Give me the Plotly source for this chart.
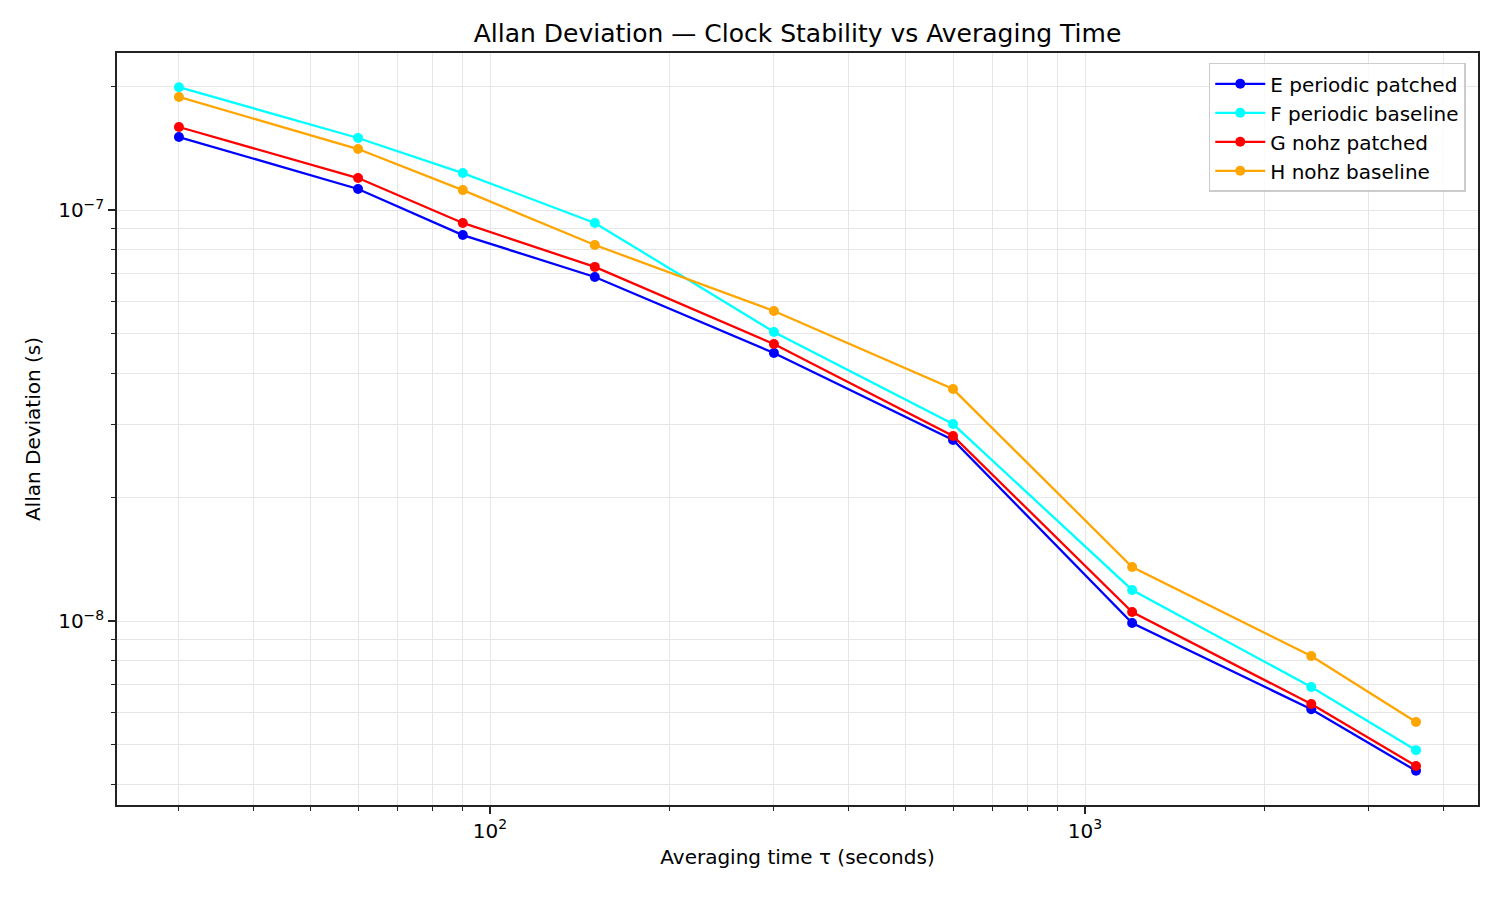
import numpy as np
import plotly.graph_objects as go

tau = [30, 60, 90, 150, 300, 600, 1200, 2400, 3600]
e_periodic_patched = [1.505e-7, 1.125e-7, 0.869e-7, 0.687e-7, 0.449e-7, 0.2757e-7, 0.989e-8, 6.10e-9, 4.32e-9]
f_periodic_baseline = [1.99e-7, 1.497e-7, 1.23e-7, 0.93e-7, 0.505e-7, 0.3014e-7, 1.19e-8, 6.91e-9, 4.85e-9]
g_nohz_patched = [1.592e-7, 1.196e-7, 0.93e-7, 0.727e-7, 0.472e-7, 0.282e-7, 1.052e-8, 6.28e-9, 4.44e-9]
h_nohz_baseline = [1.884e-7, 1.407e-7, 1.118e-7, 0.822e-7, 0.568e-7, 0.3667e-7, 1.353e-8, 8.22e-9, 5.68e-9]

series_names = ["E periodic patched", "F periodic baseline", "G nohz patched", "H nohz baseline"]
series_colors = ["#0000ff", "#00ffff", "#ff0000", "#ffa500"]
series_values = [e_periodic_patched, f_periodic_baseline, g_nohz_patched, h_nohz_baseline]

x_major = [100, 1000]
x_major_text = ["10<sup>2</sup>", "10<sup>3</sup>"]
y_major = [1e-8, 1e-7]
y_major_text = ["10<sup>−8</sup>", "10<sup>−7</sup>"]

x_minor = [m * 10 ** d for d in (1, 2, 3) for m in range(2, 10)]
y_minor = [m * 10.0 ** d for d in (-9, -8, -7) for m in range(2, 10)]

fig = go.Figure()
for name, color, vals in zip(series_names, series_colors, series_values):
    fig.add_trace(go.Scatter(
        x=tau, y=vals, name=name, mode="lines+markers",
        line=dict(color=color, width=2.3),
        marker=dict(color=color, size=10),
    ))

font = "DejaVu Sans, sans-serif"
grid_col = "#e6e6e6"

fig.update_layout(
    width=1500, height=900,
    paper_bgcolor="white", plot_bgcolor="white",
    margin=dict(l=117, r=22, t=53, b=95),
    font=dict(family=font, size=20, color="black"),
    title=dict(text="Allan Deviation — Clock Stability vs Averaging Time",
               xref="paper", x=0.5, xanchor="center", y=1 - 33 / 900, yanchor="middle",
               font=dict(size=25, family=font)),
    legend=dict(x=0.991, y=0.987, xanchor="right", yanchor="top",
                bgcolor="rgba(255,255,255,0.8)", bordercolor="#cccccc", borderwidth=1.5,
                font=dict(size=20, family=font), tracegroupgap=0, itemwidth=50),
    showlegend=True,
)

fig.update_xaxes(
    type="log", range=[1.373, 3.6605],
    tickmode="array", tickvals=x_major, ticktext=x_major_text,
    ticks="outside", ticklen=7, tickwidth=1.5, tickcolor="#222222",
    showgrid=True, gridcolor=grid_col, gridwidth=1.3,
    showline=True, linecolor="#222222", linewidth=1.5, mirror=True,
    zeroline=False,
    tickfont=dict(size=20, family=font),
    title=dict(text="Averaging time τ (seconds)", font=dict(size=20, family=font), standoff=8),
    minor=dict(tickmode="array", tickvals=x_minor, ticks="outside", ticklen=4,
               tickwidth=1.2, tickcolor="#222222", showgrid=True, gridcolor=grid_col, gridwidth=1.3),
)
fig.update_yaxes(
    type="log", range=[-8.4477, -6.618],
    tickmode="array", tickvals=y_major, ticktext=y_major_text,
    ticks="outside", ticklen=7, tickwidth=1.5, tickcolor="#222222",
    showgrid=True, gridcolor=grid_col, gridwidth=1.3,
    showline=True, linecolor="#222222", linewidth=1.5, mirror=True,
    zeroline=False,
    tickfont=dict(size=20, family=font),
    title=dict(text="Allan Deviation (s)", font=dict(size=20, family=font), standoff=12),
    minor=dict(tickmode="array", tickvals=y_minor, ticks="outside", ticklen=4,
               tickwidth=1.2, tickcolor="#222222", showgrid=True, gridcolor=grid_col, gridwidth=1.3),
)

fig.write_html("out.html")
